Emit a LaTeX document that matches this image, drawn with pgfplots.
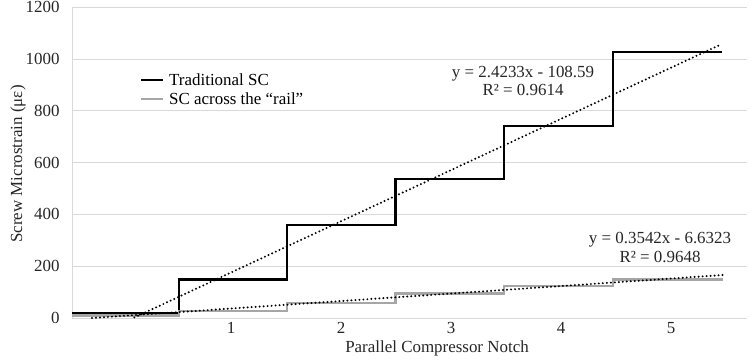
\documentclass[border=0pt]{standalone}
\usepackage{pgfplots}
\pgfplotsset{compat=1.18}
\usepackage{fontspec}
\setmainfont{Liberation Serif}
\newcommand{\fs}{\fontsize{17}{20}\selectfont}
\definecolor{gridc}{HTML}{D9D9D9}
\definecolor{grayline}{HTML}{A6A6A6}
\begin{document}
\begin{tikzpicture}
\begin{axis}[
  at={(72bp,44bp)}, anchor=south west,
  scale only axis, width=675bp, height=310.7bp,
  xmin=-0.447, xmax=5.69, ymin=0, ymax=1200,
  ytick={0,200,...,1200}, xtick={1,2,3,4,5},
  ymajorgrids, grid style={gridc, line width=0.8bp},
  axis lines=left, axis line style={-, gridc, line width=0.8bp},
  major tick length=0pt,
  /pgf/number format/assume math mode=true,
  /pgf/number format/1000 sep={},
  tick label style={font=\fs, text=black!85},
  yticklabel style={xshift=-9bp},
  xticklabel style={yshift=-1bp},
  clip=false,
]
\addplot[black, line width=2.4bp, const plot] coordinates {
  (-0.447,18) (0.525,149) (1.51,359) (2.495,538) (3.48,742) (4.47,1027) (5.46,1027)};
\addplot[grayline, line width=2.4bp, const plot] coordinates {
  (-0.447,9) (0.525,27) (1.51,58) (2.495,95) (3.48,123) (4.47,149) (5.47,149)};
\addplot[black, line width=2.2bp, line cap=round, dash pattern=on 0bp off 4bp] coordinates {
  (0.12,2) (5.43,1052)};
\addplot[black, line width=2.2bp, line cap=round, dash pattern=on 0bp off 4bp] coordinates {
  (-0.265,0) (5.47,166)};
\end{axis}
\draw[black, line width=2.4bp] (141bp,282bp) -- (163bp,282bp);
\node[anchor=west, inner sep=0, font=\fs] at (169bp,282bp) {Traditional SC};
\draw[grayline, line width=2.4bp] (141bp,263bp) -- (163bp,263bp);
\node[anchor=west, inner sep=0, font=\fs] at (169bp,263bp) {SC across the “rail”};
\node[align=center, inner sep=0, font=\fs, text=black!85] at (523bp,281bp) {y = 2.4233x - 108.59\\[-1bp]R² = 0.9614};
\node[align=center, inner sep=0, font=\fs, text=black!85] at (660bp,114.5bp) {y = 0.3542x - 6.6323\\[-1bp]R² = 0.9648};
\node[rotate=90, inner sep=0, font=\fs, text=black!85] at (18bp,198bp) {Screw Microstrain (με)};
\node[inner sep=0, font=\fs, text=black!85] at (437bp,14bp) {Parallel Compressor Notch};
\pgfresetboundingbox
\path (0,0) rectangle (749bp,362bp);
\end{tikzpicture}
\end{document}
